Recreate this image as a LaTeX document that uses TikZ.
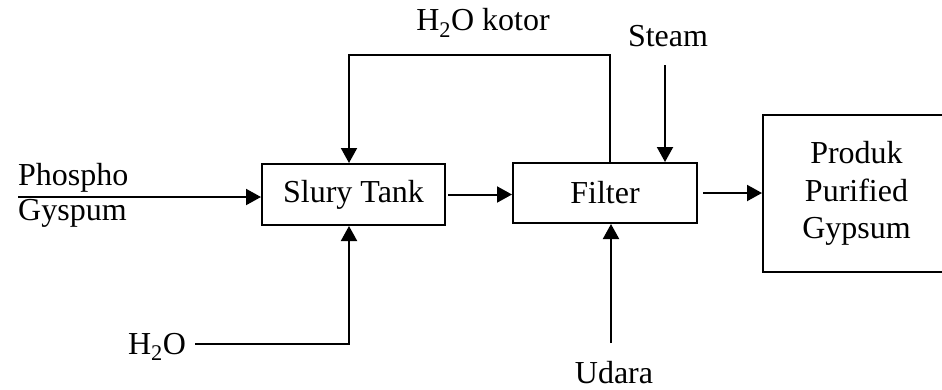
\documentclass[tikz,border=0pt]{standalone}
\usepackage{fontspec}
\setmainfont{Liberation Serif}
\usepackage{tikz}
\usetikzlibrary{arrows.meta, positioning}

\tikzset{
  unit/.style={draw, line width=2pt, minimum height=61pt, inner sep=0pt},
  flow/.style={line width=2pt, -{Triangle[length=15pt,width=16pt]}},
}

\begin{document}
\begin{tikzpicture}[x=1pt, y=-1pt, font=\fontsize{32}{37.5}\selectfont]
\useasboundingbox (0,0) rectangle (942,389);
% units
\node[unit, minimum width=183pt] (tank) at (353.5,194.5) {Slury Tank};
\node[unit, minimum width=184pt, minimum height=60pt] (filter) at (605,193) {Filter};
\node[unit, minimum width=187pt, minimum height=157pt, align=center] (produk) at (856.5,193.5) {Produk\\Purified\\Gypsum};
% labels
\node[anchor=west, inner sep=0pt] (phospho) at (18,178) {Phospho};
\node[anchor=west, inner sep=0pt] (gyspum) at (18,213) {Gyspum};
\node (kotor) at (483,23) {H\textsubscript{2}O kotor};
\node (steam) at (668,36) {Steam};
\node (air) at (157,347) {H\textsubscript{2}O};
\node (udara) at (614,373) {Udara};
% corners
\coordinate (feed) at (18,197);
\coordinate (ret) at (610,55);
\coordinate (retl) at (349,55);
\coordinate (steamtop) at (665,65);
\coordinate (airl) at (195,344);
\coordinate (airr) at (349,344);
\coordinate (udaratop) at (611,343);
% streams
\draw[flow] (feed) -- (feed -| tank.west);
\draw[flow] ([xshift=2pt]tank.east) -- (tank.east -| filter.west);
\draw[flow] ([xshift=5pt]filter.east) -- (filter.east -| produk.west);
\draw[flow] (filter.north -| ret) -- (ret) -- (retl) -- (retl |- tank.north);
\draw[flow] (steamtop) -- (steamtop |- filter.north);
\draw[flow] (airl) -- (airr) -- (airr |- tank.south);
\draw[flow] (udaratop) -- (udaratop |- filter.south);
\end{tikzpicture}
\end{document}
